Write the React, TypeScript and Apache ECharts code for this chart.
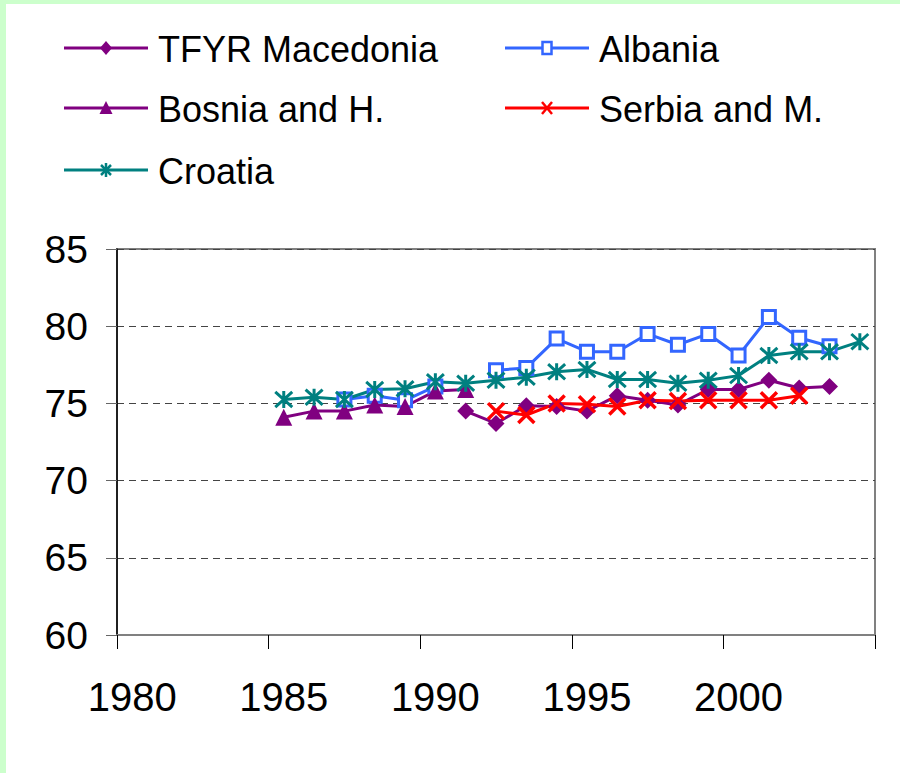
import { useEffect, useRef } from "react";
import * as echarts from "echarts";

const years = [
  "1980", "1981", "1982", "1983", "1984", "1985", "1986", "1987", "1988", "1989",
  "1990", "1991", "1992", "1993", "1994", "1995", "1996", "1997", "1998", "1999",
  "2000", "2001", "2002", "2003", "2004",
];

const macedonia = [
  null, null, null, null, null, null, null, null, null, null, null,
  74.5, 73.7, 74.85, 74.8, 74.5, 75.5, 75.2, 74.9, 75.9, 75.9, 76.5, 76.0, 76.1,
  null,
];

const albania = [
  null, null, null, null, null, null, null,
  75.25, 75.5, 75.2, 76.1, null, 77.15, 77.3, 79.2, 78.35, 78.35, 79.5, 78.8, 79.5,
  78.1, 80.6, 79.25, 78.7,
  null,
];

const bosnia = [
  null, null, null, null, null,
  74.1, 74.5, 74.5, 74.9, 74.8, 75.8, 75.9,
  null, null, null, null, null, null, null, null, null, null, null, null, null,
];

const serbia = [
  null, null, null, null, null, null, null, null, null, null, null, null,
  74.5, 74.25, 75.0, 74.95, 74.8, 75.2, 75.15, 75.2, 75.2, 75.2, 75.5,
  null, null,
];

const croatia = [
  null, null, null, null, null,
  75.25, 75.4, 75.25, 75.9, 75.95, 76.4, 76.3, 76.5, 76.7, 77.05, 77.2, 76.55,
  76.55, 76.3, 76.5, 76.8, 78.1, 78.35, 78.35, 79.0,
];

const yTicks = { min: 60, max: 85, interval: 5 };

const names = ["TFYR Macedonia", "Albania", "Bosnia and H.", "Serbia and M.", "Croatia"];

const PURPLE = "#800080";
const BLUE = "#3366FF";
const RED = "#FF0000";
const TEAL = "#008080";

const ASTERISK = "path://M5,0L5,10M0.5,0.5L9.5,9.5M9.5,0.5L0.5,9.5";
const CROSS = "path://M0,0L10,10M10,0L0,10";

const FONT = "Liberation Sans, Arial, sans-serif";

// legend layout: [column left, row centre y]
const legendSlots = [
  [64, 48],
  [505, 48],
  [64, 108],
  [505, 108],
  [64, 170],
];
const legendColors = [PURPLE, BLUE, PURPLE, RED, TEAL];
const legendMarks = ["diamond", "square", "triangle", "cross", "asterisk"];

function markerGraphic(kind: string, cx: number, cy: number, color: string): any[] {
  switch (kind) {
    case "diamond":
      return [{
        type: "polygon",
        shape: { points: [[cx, cy - 7], [cx + 6, cy], [cx, cy + 7], [cx - 6, cy]] },
        style: { fill: color },
      }];
    case "triangle":
      return [{
        type: "polygon",
        shape: { points: [[cx, cy - 7], [cx + 6.5, cy + 6], [cx - 6.5, cy + 6]] },
        style: { fill: color },
      }];
    case "square":
      return [{
        type: "rect",
        shape: { x: cx - 4.5, y: cy - 6, width: 9, height: 12 },
        style: { fill: "#ffffff", stroke: color, lineWidth: 2.5 },
      }];
    case "cross":
      return [
        { type: "line", shape: { x1: cx - 5, y1: cy - 6, x2: cx + 5, y2: cy + 6 }, style: { stroke: color, lineWidth: 2.5 } },
        { type: "line", shape: { x1: cx + 5, y1: cy - 6, x2: cx - 5, y2: cy + 6 }, style: { stroke: color, lineWidth: 2.5 } },
      ];
    default:
      return [
        { type: "line", shape: { x1: cx, y1: cy - 7, x2: cx, y2: cy + 7 }, style: { stroke: color, lineWidth: 2.5 } },
        { type: "line", shape: { x1: cx - 5, y1: cy - 5, x2: cx + 5, y2: cy + 5 }, style: { stroke: color, lineWidth: 2.5 } },
        { type: "line", shape: { x1: cx + 5, y1: cy - 5, x2: cx - 5, y2: cy + 5 }, style: { stroke: color, lineWidth: 2.5 } },
      ];
  }
}

function legendGraphics(): any[] {
  const out: any[] = [];
  names.forEach((name, i) => {
    const [left, cy] = legendSlots[i];
    const color = legendColors[i];
    out.push({
      type: "line",
      shape: { x1: left, y1: cy, x2: left + 84, y2: cy },
      style: { stroke: color, lineWidth: 3 },
    });
    out.push(...markerGraphic(legendMarks[i], left + 42, cy, color));
    out.push({
      type: "text",
      style: {
        text: name,
        x: left + 94,
        y: cy + 1,
        fill: "#000",
        fontSize: 36,
        fontFamily: FONT,
        align: "left",
        verticalAlign: "middle",
      },
    });
  });
  return out;
}

export default function App() {
  const ref = useRef<HTMLDivElement>(null);
  useEffect(() => {
    document.body.style.margin = "0";
    const chart = echarts.init(ref.current!, null, { renderer: "svg" });
    const option: any = {
      animation: false,
      backgroundColor: "#ffffff",
      graphic: [
        { type: "rect", shape: { x: 0, y: 0, width: 6, height: 773 }, style: { fill: "#CCFFCC" } },
        { type: "rect", shape: { x: 0, y: 0, width: 900, height: 4 }, style: { fill: "#CCFFCC" } },
        ...legendGraphics(),
      ],
      grid: {
        left: 117,
        right: 25,
        top: 249,
        bottom: 138,
        show: true,
        borderColor: "#808080",
        borderWidth: 2,
        backgroundColor: "transparent",
      },
      xAxis: {
        type: "category",
        data: years,
        boundaryGap: true,
        axisLine: { lineStyle: { color: "#808080", width: 2 } },
        axisTick: { show: true, interval: 4, length: 14, lineStyle: { color: "#000", width: 1 } },
        axisLabel: { interval: 4, fontSize: 40, color: "#000", fontFamily: FONT, margin: 42 },
        splitLine: { show: false },
      },
      yAxis: {
        type: "value",
        min: yTicks.min,
        max: yTicks.max,
        interval: yTicks.interval,
        axisLine: { show: true, lineStyle: { color: "#000", width: 1.5 } },
        axisTick: { show: true, length: 11, lineStyle: { color: "#666" } },
        axisLabel: { fontSize: 39, color: "#000", fontFamily: FONT, margin: 29 },
        splitLine: { show: true, lineStyle: { type: [7, 5], color: "#444", width: 1 } },
      },
      series: [
        {
          name: names[0],
          type: "line",
          data: macedonia,
          symbol: "diamond",
          symbolSize: 17,
          lineStyle: { color: PURPLE, width: 3 },
          itemStyle: { color: PURPLE },
          emphasis: { disabled: true },
        },
        {
          name: names[1],
          type: "line",
          data: albania,
          symbol: "rect",
          symbolSize: 13,
          lineStyle: { color: BLUE, width: 3 },
          itemStyle: { color: "#ffffff", borderColor: BLUE, borderWidth: 3 },
          emphasis: { disabled: true },
        },
        {
          name: names[2],
          type: "line",
          data: bosnia,
          symbol: "triangle",
          symbolSize: 17,
          lineStyle: { color: PURPLE, width: 3 },
          itemStyle: { color: PURPLE },
          emphasis: { disabled: true },
        },
        {
          name: names[3],
          type: "line",
          data: serbia,
          symbol: CROSS,
          symbolSize: 16,
          lineStyle: { color: RED, width: 3 },
          itemStyle: { color: RED, borderColor: RED, borderWidth: 3.5 },
          emphasis: { disabled: true },
        },
        {
          name: names[4],
          type: "line",
          data: croatia,
          symbol: ASTERISK,
          symbolSize: 17,
          lineStyle: { color: TEAL, width: 3 },
          itemStyle: { color: TEAL, borderColor: TEAL, borderWidth: 3 },
          emphasis: { disabled: true },
        },
      ],
    };
    chart.setOption(option);
    return () => chart.dispose();
  }, []);
  return <div ref={ref} style={{ width: 900, height: 773 }} />;
}
